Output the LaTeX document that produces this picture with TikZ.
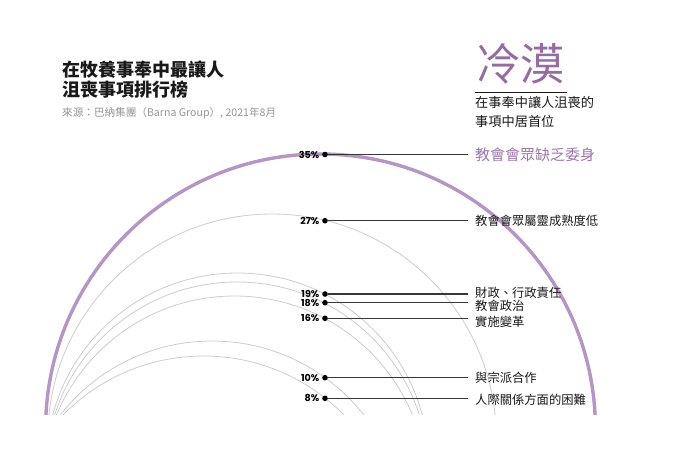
\documentclass[tikz,border=0pt]{standalone}
\usepackage{fontspec}
\setmainfont{Noto Sans CJK TC}
\newfontfamily\pctfont{Poppins}
\definecolor{arcpurple}{RGB}{180,150,196}
\definecolor{txtpurple}{RGB}{148,108,160}
\definecolor{lblpurple}{RGB}{156,120,170}
\definecolor{arcgray}{RGB}{205,205,205}
\definecolor{linegray}{RGB}{55,55,55}
\definecolor{subgray}{RGB}{150,150,150}
\definecolor{titleblack}{RGB}{25,25,25}
\tikzset{
  dotnode/.style={circle,fill=black,minimum size=5.6pt,inner sep=0pt},
  pctlabel/.style={anchor=east,inner sep=0pt,font=\pctfont\bfseries\fontsize{9.6}{10}\selectfont,text=black},
  itemlabel/.style={anchor=west,inner xsep=7pt,inner ysep=0pt,font=\fontsize{12.3}{13}\selectfont,text=titleblack},
  leader/.style={draw=linegray,line width=1.1pt},
  grayarc/.style={draw=arcgray,line width=0.8pt},
  purplearc/.style={draw=arcpurple,line width=3.4pt}
}
\begin{document}
\begin{tikzpicture}[x=1pt,y=-1pt]
\useasboundingbox (0,0) rectangle (700,464);
\fill[white] (0,0) rectangle (700,464);
% arcs
\begin{scope}
\clip (0,0) rectangle (700,414);
\draw[grayarc] (272,438.3) circle (224.3);
\draw[grayarc] (237.5,464.2) circle (191.2);
\draw[grayarc] (237,473.5) circle (191.5);
\draw[grayarc] (234.5,488.5) circle (192.5);
\draw[grayarc] (212,533.7) circle (192.7);
\draw[grayarc] (203.5,552.8) circle (196.8);
\draw[purplearc] (320.5,428.9) circle (274.9);
\end{scope}
% title
\node[anchor=base west,inner sep=0pt,font=\bfseries\fontsize{18}{20}\selectfont,text=titleblack] (t1) at (62,76.3) {在牧養事奉中最讓人};
\node[anchor=base west,inner sep=0pt,font=\bfseries\fontsize{18}{20}\selectfont,text=titleblack] (t2) at (62,96.3) {沮喪事項排行榜};
\node[anchor=base west,inner sep=0pt,font=\fontsize{10.6}{11}\selectfont,text=subgray] (src) at (62,116.5) {來源：巴納集團（Barna Group）, 2021年8月};
% highlight
\node[anchor=base west,inner sep=0pt,font=\fontsize{44}{46}\selectfont,text=txtpurple] (big) at (476,80.7) {冷漠};
\coordinate (ruleL) at (475,92);
\coordinate (ruleR) at (567,92);
\draw[draw=titleblack,line width=0.8pt] (ruleL) -- (ruleR);
\node[anchor=base west,inner sep=0pt,font=\fontsize{13.2}{14}\selectfont,text=titleblack] (h1) at (475,107.4) {在事奉中讓人沮喪的};
\node[anchor=base west,inner sep=0pt,font=\fontsize{13.2}{14}\selectfont,text=titleblack] (h2) at (475,126) {事項中居首位};
% items
\node[dotnode] (d35) at (325,154.5) {};
\node[dotnode] (d27) at (325,220.7) {};
\node[dotnode] (d19) at (325,294) {};
\node[dotnode] (d18) at (325,302.7) {};
\node[dotnode] (d16) at (325,318.3) {};
\node[dotnode] (d10) at (325,377.7) {};
\node[dotnode] (d8) at (325,398.3) {};
\node[pctlabel] (p35) at (319.5,154.5) {35\%};
\node[pctlabel] (p27) at (319.5,220.7) {27\%};
\node[pctlabel] (p19) at (319.5,294) {19\%};
\node[pctlabel] (p18) at (319.5,302.7) {18\%};
\node[pctlabel] (p16) at (319.5,318.3) {16\%};
\node[pctlabel] (p10) at (319.5,377.7) {10\%};
\node[pctlabel] (p8) at (319.5,398.3) {8\%};
\node[itemlabel,font=\fontsize{15}{16}\selectfont,text=lblpurple] (l35) at (468,155) {教會會眾缺乏委身};
\node[itemlabel] (l27) at (468,220.7) {教會會眾屬靈成熟度低};
\node[itemlabel] (l19) at (468,292.5) {財政、行政責任};
\node[itemlabel] (l18) at (468,305.5) {教會政治};
\node[itemlabel] (l16) at (468,321.5) {實施變革};
\node[itemlabel] (l10) at (468,378) {與宗派合作};
\node[itemlabel] (l8) at (468,400) {人際關係方面的困難};
\draw[leader] (d35) -- (d35 -| l35.west);
\draw[leader] (d27) -- (d27 -| l27.west);
\draw[leader] (d19) -- (d19 -| l19.west);
\draw[leader] (d18) -- (d18 -| l18.west);
\draw[leader] (d16) -- (d16 -| l16.west);
\draw[leader] (d10) -- (d10 -| l10.west);
\draw[leader] (d8) -- (d8 -| l8.west);
\end{tikzpicture}
\end{document}
